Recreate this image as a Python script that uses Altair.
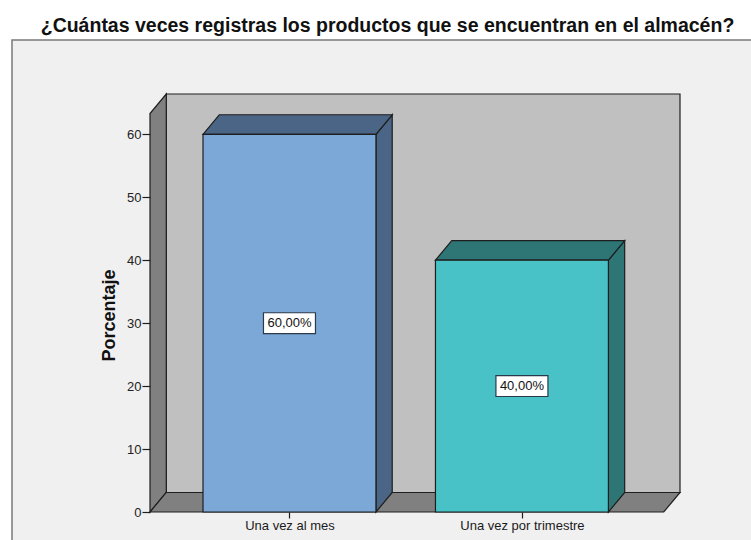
import altair as alt
import pandas as pd

# ---------------- data ----------------
categories = ["Una vez al mes", "Una vez por trimestre"]
percentages = [60.0, 40.0]
positions = [1, 2]
front_colors = ["#7ba8d6", "#48c2c6"]
side_colors = ["#4a6585", "#2e7575"]
y_tick_values = [0, 10, 20, 30, 40, 50, 60]
title_text = "¿Cuántas veces registras los productos que se encuentran en el almacén?"
y_title = "Porcentaje"

# ---------------- style / geometry ----------------
FONT = "Liberation Sans"
X_DOMAIN = [0.4, 2.68]
Y_DOMAIN = [0, 66.4]
HALF_W = 0.372
DX = 0.07   # 3D depth in x units
DY = 3.1    # 3D depth in y units
W, H = 530, 418
EDGE = "#1e1e1e"
WALL_BACK = "#c0c0c0"
WALL_DARK = "#808080"

xs = alt.Scale(domain=X_DOMAIN, nice=False, zero=False)
ys = alt.Scale(domain=Y_DOMAIN, nice=False, zero=False)

label_expr = "''"
for p, c in reversed(list(zip(positions, categories))):
    label_expr = f"datum.value === {p} ? '{c}' : ({label_expr})"

x_axis = alt.Axis(values=positions, labelExpr=label_expr, tickSize=6, tickColor=EDGE,
                  tickWidth=1.2, domain=False, grid=False, labelFont=FONT, labelFontSize=13,
                  labelColor="#1a1a1a", labelPadding=1, title=None, zindex=1)
y_axis = alt.Axis(values=y_tick_values, tickSize=8, tickColor=EDGE, tickWidth=1.2,
                  domain=False, grid=False, labelFont=FONT, labelFontSize=13,
                  labelColor="#222222", labelPadding=1, title=y_title, titleFont=FONT,
                  titleFontSize=18, titleFontWeight="bold", titleColor="#111111",
                  titleY=221, titlePadding=8, zindex=1)


def X(f):
    return alt.X(f"{f}:Q", scale=xs, axis=x_axis)


def Y(f):
    return alt.Y(f"{f}:Q", scale=ys, axis=y_axis)


# frame behind the whole plot
frame = alt.Chart(pd.DataFrame({"k": [0]})).mark_rect(
    fill="#f0f0f0", stroke="#7a7a7a", strokeWidth=1.5
).encode(x=alt.value(-138), x2=alt.value(W + 120), y=alt.value(-54), y2=alt.value(H + 120))

# back wall
back_df = pd.DataFrame({"x": [X_DOMAIN[0] + DX], "x2": [X_DOMAIN[1]],
                        "y": [Y_DOMAIN[0] + DY], "y2": [Y_DOMAIN[1]]})
back = alt.Chart(back_df).mark_rect(fill=WALL_BACK, stroke=EDGE, strokeWidth=1.2).encode(
    x=X("x"), x2="x2", y=Y("y"), y2="y2")

# left wall (vertical parallelogram)
left_df = pd.DataFrame({"x": [X_DOMAIN[0], X_DOMAIN[0] + DX],
                        "ya": [0, DY], "yb": [Y_DOMAIN[1] - DY, Y_DOMAIN[1]]})
left = alt.Chart(left_df).mark_area(orient="vertical", fill=WALL_DARK, stroke=EDGE,
                                    strokeWidth=1.2, opacity=1).encode(
    x=X("x"), y=Y("ya"), y2="yb")

# floor (horizontal parallelogram)
floor_df = pd.DataFrame({"y": [0, DY], "xa": [X_DOMAIN[0], X_DOMAIN[0] + DX],
                         "xb": [X_DOMAIN[1] - DX, X_DOMAIN[1]]})
floor = alt.Chart(floor_df).mark_area(orient="horizontal", fill=WALL_DARK, stroke=EDGE,
                                      strokeWidth=1.2, opacity=1).encode(
    y=Y("y"), x=X("xa"), x2="xb")

# bars
front_rows, top_rows, side_rows, label_rows = [], [], [], []
for i, (cat, p, v) in enumerate(zip(categories, positions, percentages)):
    front_rows.append({"cat": cat, "x": p - HALF_W, "x2": p + HALF_W, "y": 0, "y2": v,
                       "fc": front_colors[i]})
    top_rows += [
        {"shape": i, "y": v, "xa": p - HALF_W, "xb": p + HALF_W, "sc": side_colors[i]},
        {"shape": i, "y": v + DY, "xa": p - HALF_W + DX, "xb": p + HALF_W + DX, "sc": side_colors[i]},
    ]
    side_rows += [
        {"shape": i, "x": p + HALF_W, "ya": 0, "yb": v, "sc": side_colors[i]},
        {"shape": i, "x": p + HALF_W + DX, "ya": DY, "yb": v + DY, "sc": side_colors[i]},
    ]
    label_rows.append({"x": p, "y": v / 2,
                       "txt": f"{v:.2f}".replace(".", ",") + "%"})

side = alt.Chart(pd.DataFrame(side_rows)).mark_area(
    orient="vertical", stroke=EDGE, strokeWidth=1.2, opacity=1).encode(
    x=X("x"), y=Y("ya"), y2="yb", detail="shape:N",
    fill=alt.Fill("sc:N", scale=None))

top = alt.Chart(pd.DataFrame(top_rows)).mark_area(
    orient="horizontal", stroke=EDGE, strokeWidth=1.2, opacity=1).encode(
    y=Y("y"), x=X("xa"), x2="xb", detail="shape:N",
    fill=alt.Fill("sc:N", scale=None))

front = alt.Chart(pd.DataFrame(front_rows)).mark_rect(
    stroke=EDGE, strokeWidth=1.2).encode(
    x=X("x"), x2="x2", y=Y("y"), y2="y2", fill=alt.Fill("fc:N", scale=None))

lab_df = pd.DataFrame(label_rows)
box = alt.Chart(lab_df).mark_point(
    shape="M-1,-0.4L1,-0.4L1,0.4L-1,0.4Z", size=2704, filled=True, fill="white",
    stroke="#2a3a4a", strokeWidth=1.2, opacity=1).encode(x=X("x"), y=Y("y"))

txt = alt.Chart(lab_df).mark_text(
    font=FONT, fontSize=13, color="#111111", align="center", baseline="middle").encode(
    x=X("x"), y=Y("y"), text="txt:N")

chart = alt.layer(frame, back, left, floor, side, top, front, box, txt).properties(
    width=W, height=H,
    title=alt.TitleParams(title_text, font=FONT, fontSize=19.5, fontWeight="bold",
                          color="#111111", anchor="middle", frame="group", dx=-27.5,
                          dy=20, baseline="alphabetic", offset=8),
    autosize=alt.AutoSizeParams(type="none"),
    padding={"left": 150, "top": 94, "right": 71, "bottom": 28},
    background="white",
).configure_view(stroke="transparent")

chart.save("out.html", embed_options={"renderer": "svg", "actions": False})
